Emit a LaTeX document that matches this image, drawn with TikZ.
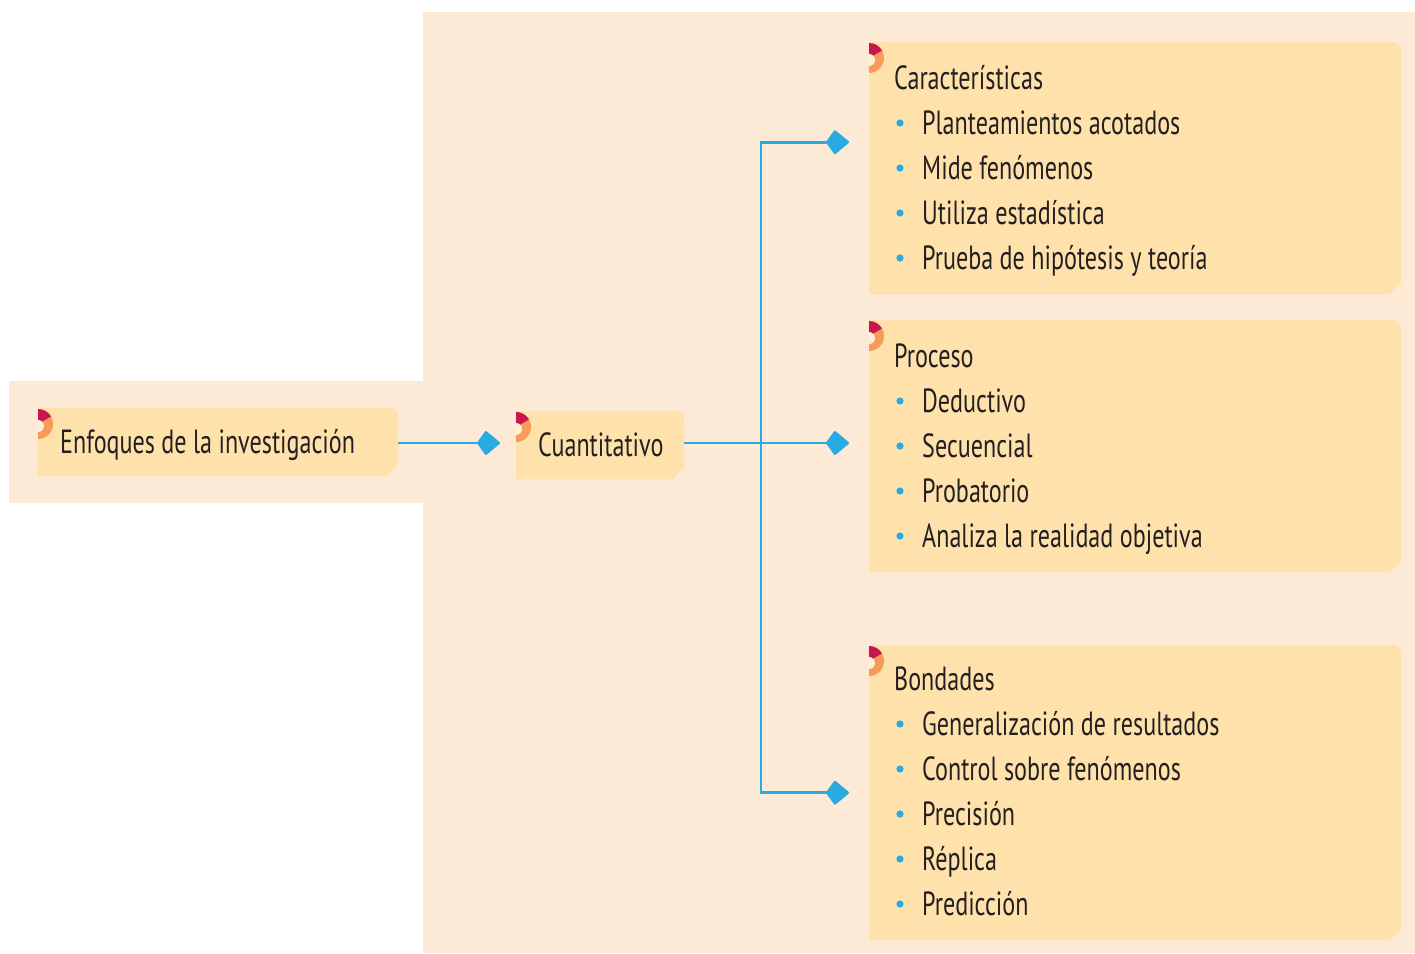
\documentclass[tikz,border=0pt]{standalone}
\usepackage{fontspec}
\setmainfont{PT Sans}[FakeStretch=0.72]
\usetikzlibrary{arrows.meta}
\definecolor{peach}{HTML}{FDEAD6}
\definecolor{boxc}{HTML}{FFE2AB}
\definecolor{linec}{HTML}{29ABE2}
\definecolor{ink}{HTML}{231F20}
\definecolor{crim}{HTML}{C8174F}
\definecolor{orng}{HTML}{F79A5A}
\newcommand\shapebox[1]{%
  \fill[boxc] (#1.north west) -- ([xshift=-8pt]#1.north east)
    arc[start angle=90,end angle=0,radius=8pt]
    -- ([yshift=12pt]#1.south east) -- ([xshift=-12pt]#1.south east)
    -- (#1.south west) -- cycle;
  \coordinate (#1ic) at ([yshift=-16pt]#1.north west);
  \fill[orng] (#1ic) -- ++(-90:15pt) arc[start angle=-90,end angle=90,radius=15pt] -- cycle;
  \fill[crim] (#1ic) -- ++(90:15pt) arc[start angle=90,end angle=30,radius=15pt] -- cycle;
  \fill[boxc!50!white] ([yshift=-2pt]#1ic) -- ++(-90:6pt) arc[start angle=-90,end angle=90,radius=6pt] -- cycle;
}
\newcommand\itemlist[4]{%
  \node[txt] (#1t) at (894,#2) {#3};
  \foreach[count=\i] \t in {#4} {
    \fill[linec] (900,{#2+45*\i-11}) circle (3.6pt);
    \node[txt] (#1-\i) at (922,{#2+45*\i}) {\t};
  }
}
\begin{document}
\begin{tikzpicture}[x=1pt,y=-1pt,
  boxnode/.style={inner sep=0, anchor=north west},
  txt/.style={inner sep=0, anchor=base west, text=ink, font=\fontsize{33.5}{40}\selectfont},
  conn/.style={draw=linec, line width=2.6pt, -{Kite[length=24pt,width=25pt,inset=9pt,round]}}]
\useasboundingbox (0,0) rectangle (1415,953);
\fill[peach] (423,12) rectangle (1415,953);
\fill[peach] (9,381) rectangle (423,503);

\node[boxnode, minimum width=360, minimum height=68] (b1) at (38,408) {};
\node[boxnode, minimum width=168, minimum height=68] (b2) at (516,411) {};
\node[boxnode, minimum width=532, minimum height=252] (b3) at (869,42) {};
\node[boxnode, minimum width=532, minimum height=252] (b4) at (869,320) {};
\node[boxnode, minimum width=532, minimum height=295] (b5) at (869,645) {};
\foreach \b in {b1,b2,b3,b4,b5} {\shapebox{\b}}

\node[txt] (t1) at (60,453) {Enfoques de la investigación};
\node[txt] (t2) at (538,456) {Cuantitativo};

\itemlist{l3}{89}{Características}{Planteamientos acotados,Mide fenómenos,Utiliza estadística,Prueba de hipótesis y teoría}
\itemlist{l4}{367}{Proceso}{Deductivo,Secuencial,Probatorio,Analiza la realidad objetiva}
\itemlist{l5}{690}{Bondades}{Generalización de resultados,Control sobre fenómenos,Precisión,Réplica,Predicción}

\coordinate (j) at (761,443);
\coordinate (a3) at ([yshift=26pt]b3.west);
\draw[conn, shorten >=16pt] (b1.east |- 0,443) -- (b2.west |- 0,443);
\draw[conn, shorten >=20pt] (b2.east |- j) -- (b4.west |- j);
\draw[conn, shorten >=20pt] (j) |- (a3);
\draw[conn, shorten >=20pt] (j) |- (b5.west);
\end{tikzpicture}
\end{document}
